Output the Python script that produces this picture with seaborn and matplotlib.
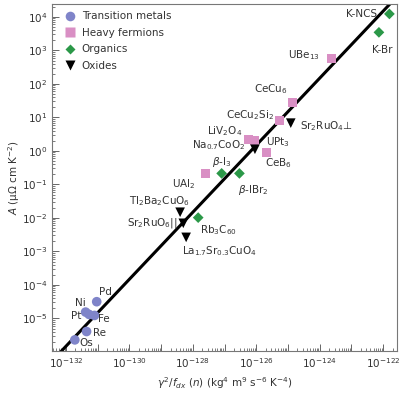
import numpy as np
import pandas as pd
import matplotlib
matplotlib.use('Agg')
import matplotlib.pyplot as plt
import matplotlib.ticker as mticker
import seaborn as sns

# Data (log10 values)
groups = ['Transition metals', 'Heavy fermions', 'Organics', 'Oxides']

tm_names = ['Pd', 'Ni', 'Pt', 'Fe', 'Re', 'Os']
tm_logx = [-131.03, -131.38, -131.27, -131.10, -131.35, -131.72]
tm_logA = [-4.50, -4.81, -4.88, -4.91, -5.39, -5.64]

hf_names = ['UAl$_2$', 'LiV$_2$O$_4$', 'UPt$_3$', 'CeB$_6$', 'CeCu$_2$Si$_2$', 'CeCu$_6$', 'UBe$_{13}$']
hf_logx = [-127.61, -126.25, -126.06, -125.69, -125.27, -124.85, -123.62]
hf_logA = [-0.67, 0.35, 0.32, -0.06, 0.90, 1.44, 2.77]

org_names = ['Rb$_3$C$_{60}$', r'$\beta$-I$_3$', r'$\beta$-IBr$_2$', 'K-NCS', 'K-Br']
org_logx = [-127.83, -127.09, -126.53, -121.80, -122.13]
org_logA = [-1.99, -0.67, -0.67, 4.09, 3.54]

ox_names = ['Tl$_2$Ba$_2$CuO$_6$', 'Sr$_2$RuO$_6$||', 'La$_{1.7}$Sr$_{0.3}$CuO$_4$',
            'Na$_{0.7}$CoO$_2$', 'Sr$_2$RuO$_4$\u22a5']
ox_logx = [-128.40, -128.30, -128.21, -126.04, -124.91]
ox_logA = [-1.83, -2.16, -2.58, 0.05, 0.83]

# Kadowaki-Woods line: log A = log x + offset
kw_offset = 126.17

# label placement: (dx, dy in pixels, horizontal alignment)
label_pos = {
    'Pd': (2, 10, 'left'), 'Ni': (0, 9, 'right'), 'Pt': (-8, -2, 'right'),
    'Fe': (4, -4, 'left'), 'Re': (6, -1, 'left'), 'Os': (5, -3, 'left'),
    'UAl$_2$': (-10, -11, 'right'), 'LiV$_2$O$_4$': (-6, 8, 'right'),
    'UPt$_3$': (12, -2, 'left'), 'CeB$_6$': (-1, -10, 'left'),
    'CeCu$_2$Si$_2$': (-5, 6, 'right'), 'CeCu$_6$': (-5, 14, 'right'),
    'UBe$_{13}$': (-12, 3, 'right'),
    'Rb$_3$C$_{60}$': (2, -12, 'left'), r'$\beta$-I$_3$': (0, 11, 'center'),
    r'$\beta$-IBr$_2$': (-1, -17, 'left'), 'K-NCS': (-12, 0, 'right'),
    'K-Br': (3, -18, 'center'),
    'Tl$_2$Ba$_2$CuO$_6$': (10, 11, 'right'), 'Sr$_2$RuO$_6$||': (-6, 0, 'right'),
    'La$_{1.7}$Sr$_{0.3}$CuO$_4$': (-4, -14, 'left'),
    'Na$_{0.7}$CoO$_2$': (-10, 4, 'right'), 'Sr$_2$RuO$_4$\u22a5': (9, -3, 'left'),
}

frames = []
for g, names, lx, la in [(groups[0], tm_names, tm_logx, tm_logA),
                         (groups[1], hf_names, hf_logx, hf_logA),
                         (groups[2], org_names, org_logx, org_logA),
                         (groups[3], ox_names, ox_logx, ox_logA)]:
    frames.append(pd.DataFrame({'group': g, 'name': names,
                                'x': 10.0 ** np.array(lx), 'A': 10.0 ** np.array(la)}))
df = pd.concat(frames, ignore_index=True)

palette = {'Transition metals': '#7f84c9', 'Heavy fermions': '#d98fc4',
           'Organics': '#2b9848', 'Oxides': '#000000'}
markers = {'Transition metals': 'o', 'Heavy fermions': 's',
           'Organics': 'D', 'Oxides': 'v'}
sizes = {'Transition metals': 48, 'Heavy fermions': 42,
         'Organics': 30, 'Oxides': 48}

sns.set_style('ticks')
plt.rcParams['font.family'] = ['DejaVu Sans']
plt.rcParams['mathtext.fontset'] = 'dejavusans'
text_col = '#333333'

fig = plt.figure(figsize=(4.0, 3.93), dpi=100)
ax = fig.add_axes([0.13, 0.107, 0.8625, 0.884])

xlim = (10 ** -132.44, 10 ** -121.56)
ylim = (10 ** -5.97, 10 ** 4.40)
ax.set_xscale('log')
ax.set_yscale('log')

line_x = np.array(xlim)
sns.lineplot(x=line_x, y=line_x * 10 ** kw_offset, color='black', lw=2.2, ax=ax)

sns.scatterplot(data=df, x='x', y='A', hue='group', style='group', size='group',
                hue_order=groups, style_order=groups, size_order=groups,
                palette=palette, markers=markers, sizes=sizes,
                edgecolor='none', ax=ax, zorder=3)

for _, r in df.iterrows():
    dx, dy, ha = label_pos[r['name']]
    ax.annotate(r['name'], (r['x'], r['A']), xytext=(dx, dy),
                textcoords='offset pixels', ha=ha, va='center',
                fontsize=7.5, color=text_col)

ax.set_xlim(*xlim)
ax.set_ylim(*ylim)

ax.xaxis.set_major_locator(mticker.LogLocator(base=10, numticks=30))
ax.yaxis.set_major_locator(mticker.LogLocator(base=10, numticks=30))
ax.xaxis.set_minor_locator(mticker.LogLocator(base=10, subs=np.arange(2, 10), numticks=30))
ax.yaxis.set_minor_locator(mticker.LogLocator(base=10, subs=np.arange(2, 10), numticks=30))


def xfmt(v, pos):
    e = int(round(np.log10(v)))
    if e % 2 or not (xlim[0] <= v <= xlim[1]):
        return ''
    return r'$10^{%d}$' % e


def yfmt(v, pos):
    e = int(round(np.log10(v)))
    if not (ylim[0] <= v <= ylim[1]):
        return ''
    return r'$10^{%d}$' % e


ax.xaxis.set_major_formatter(mticker.FuncFormatter(xfmt))
ax.yaxis.set_major_formatter(mticker.FuncFormatter(yfmt))
ax.xaxis.set_minor_formatter(mticker.NullFormatter())
ax.yaxis.set_minor_formatter(mticker.NullFormatter())

ax.tick_params(which='both', direction='in', colors='#666666', labelcolor=text_col,
               labelsize=7.5, top=False, right=False)
ax.tick_params(which='major', length=5, width=0.7)
ax.tick_params(which='minor', length=2.5, width=0.6)
for sp in ax.spines.values():
    sp.set_color('#777777')
    sp.set_linewidth(0.8)

ax.set_xlabel(r'$\gamma^2/f_{dx}$ ($n$) (kg$^4$ m$^9$ s$^{-6}$ K$^{-4}$)',
              fontsize=7.5, color=text_col, labelpad=4)
ax.set_ylabel(r'$A$ (μΩ cm K$^{-2}$)', fontsize=7.5, color=text_col, labelpad=0)

ax.legend(loc='upper left', frameon=False, fontsize=7.5, handletextpad=0.1,
          labelspacing=0.62, borderaxespad=0.35, markerscale=1.0,
          labelcolor=text_col)

fig.savefig('out.png', dpi=100)
